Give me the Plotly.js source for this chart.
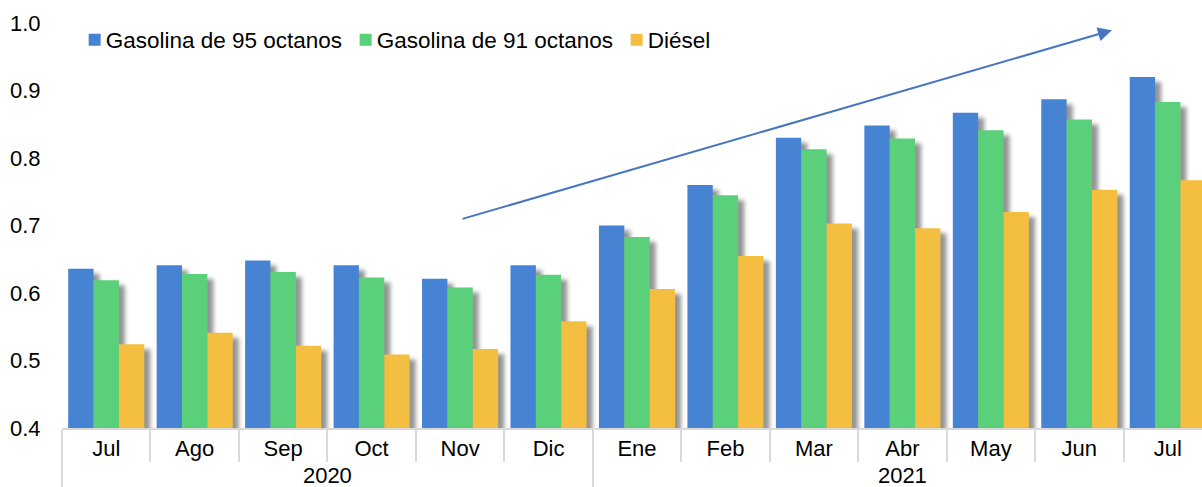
<!DOCTYPE html>
<html>
<head>
<meta charset="utf-8">
<script src="https://cdn.plot.ly/plotly-3.0.1.min.js"></script>
<style>
html, body { margin: 0; padding: 0; overflow: hidden; background: #fff; }
#chart { width: 1212px; height: 487px; }
.barlayer .trace.bars .point path { filter: drop-shadow(6px 5px 2px rgba(0,0,0,0.42)); }
</style>
</head>
<body>
<div id="chart"></div>
<script>
const years = ["2020","2020","2020","2020","2020","2020","2021","2021","2021","2021","2021","2021","2021"];
// the second "Jul" carries a zero-width space so Plotly keeps it as its own (last) category
const months = ["Jul","Ago","Sep","Oct","Nov","Dic","Ene","Feb","Mar","Abr","May","Jun","Jul\u200B"];
const gas95 = [0.636, 0.641, 0.648, 0.641, 0.621, 0.641, 0.700, 0.760, 0.830, 0.848, 0.867, 0.887, 0.920];
const gas91 = [0.619, 0.628, 0.631, 0.623, 0.608, 0.627, 0.683, 0.745, 0.813, 0.829, 0.841, 0.857, 0.883];
const diesel = [0.524, 0.541, 0.522, 0.509, 0.517, 0.558, 0.606, 0.655, 0.703, 0.696, 0.720, 0.753, 0.767];
const seriesNames = ["Gasolina de 95 octanos", "Gasolina de 91 octanos", "Diésel"];
const colors = ["#4683D3", "#5BD07A", "#F4BF41"];
const yTicks = [0.4, 0.5, 0.6, 0.7, 0.8, 0.9, 1.0];

const x = [years, months];
const vals = [gas95, gas91, diesel];
const data = vals.map((v, i) => ({
  type: "bar",
  x: x,
  y: v,
  name: seriesNames[i],
  marker: { color: colors[i], line: { width: 0 } },
  hoverinfo: "skip"
}));

const layout = {
  width: 1212,
  height: 487,
  margin: { l: 62, r: 0, t: 23, b: 59 },
  paper_bgcolor: "#fff",
  plot_bgcolor: "#fff",
  font: { family: "Liberation Sans, Arial, sans-serif", size: 22, color: "#000" },
  barmode: "group",
  bargap: 0.14,
  bargroupgap: 0,
  showlegend: true,
  legend: {
    orientation: "h",
    x: 0.011, xanchor: "left",
    y: 0.958, yanchor: "middle",
    font: { size: 22.5, color: "#000" },
    bgcolor: "rgba(0,0,0,0)",
    traceorder: "normal",
    entrywidth: 226,
    entrywidthmode: "pixels"
  },
  xaxis: {
    type: "multicategory",
    showline: true,
    linecolor: "#d9d9d9",
    linewidth: 2,
    ticks: "outside",
    ticklen: 32,
    tickwidth: 2,
    tickcolor: "#d9d9d9",
    showdividers: true,
    dividercolor: "#d9d9d9",
    dividerwidth: 2,
    tickfont: { size: 22, color: "#000" },
    showgrid: false,
    zeroline: false,
    fixedrange: true
  },
  yaxis: {
    range: [0.4, 1.0],
    tickvals: yTicks,
    tickformat: ".1f",
    showgrid: false,
    zeroline: false,
    showline: false,
    ticks: "outside",
    ticklen: 16,
    tickcolor: "rgba(0,0,0,0)",
    tickfont: { size: 22, color: "#000" },
    fixedrange: true
  },
  annotations: [{
    xref: "paper", yref: "paper",
    x: 0.913, y: 0.982,
    axref: "pixel", ayref: "pixel",
    ax: -651, ay: 189,
    text: "",
    showarrow: true,
    arrowhead: 2,
    arrowsize: 1.4,
    arrowwidth: 2,
    arrowcolor: "#4676BE",
    standoff: 0
  }]
};

Plotly.newPlot("chart", data, layout, { displayModeBar: false, staticPlot: true }).then(function (gd) {
  // tighten the gap between legend swatch and its text, as in the original
  gd.querySelectorAll(".legend .legendtext").forEach(function (t) { t.setAttribute("x", "31"); });
});
</script>
</body>
</html>
